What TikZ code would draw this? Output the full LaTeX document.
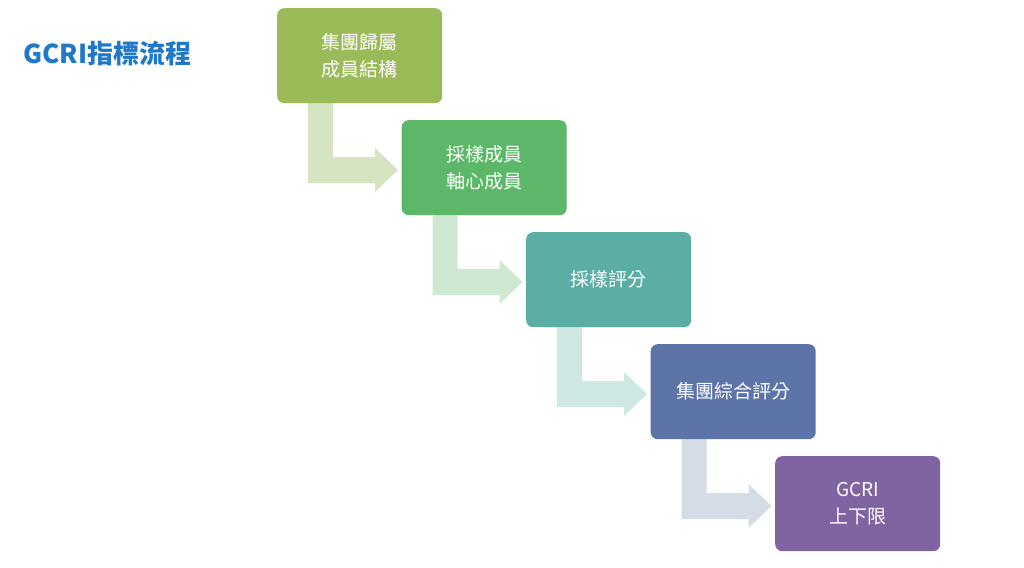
\documentclass[tikz,border=0pt]{standalone}
\usepackage{fontspec}
\newfontfamily\cjk{Noto Sans CJK TC}
\begin{document}
\begin{tikzpicture}[x=1pt,y=-1pt,
  stepbox/.style={rounded corners=7pt,minimum width=165pt,minimum height=95pt,text=white,font=\cjk\fontsize{19}{27}\selectfont,align=center,inner sep=0pt,anchor=north west}]
\useasboundingbox (0,0) rectangle (1024,567);
\fill[white] (0,0) rectangle (1024,567);
\node[anchor=west,text={rgb,255:red,31;green,120;blue,200},font=\cjk\bfseries\fontsize{26}{30}\selectfont] (title) at (20,54) {GCRI指標流程};
\definecolor{c1}{RGB}{155,187,89}
\definecolor{c2}{RGB}{92,184,104}
\definecolor{c3}{RGB}{90,174,164}
\definecolor{c4}{RGB}{92,116,168}
\definecolor{c5}{RGB}{128,100,162}
\definecolor{a1}{RGB}{214,228,194}
\definecolor{a2}{RGB}{206,232,210}
\definecolor{a3}{RGB}{208,232,228}
\definecolor{a4}{RGB}{212,220,230}
\definecolor{a5}{RGB}{228,224,236}
\foreach \i/\a in {0/a1,1/a2,2/a3,3/a4}{
  \begin{scope}[shift={({\i*124.5},{\i*112})}]
  \fill[\a] (308,103) -- (333,103) -- (333,157) -- (375,157) -- (375,148) -- (398,170) -- (375,192) -- (375,183) -- (308,183) -- cycle;
  \end{scope}}
\node[stepbox,fill=c1] (b1) at (277,8) {集團歸屬\\成員結構};
\node[stepbox,fill=c2] (b2) at (401.5,120) {採樣成員\\軸心成員};
\node[stepbox,fill=c3] (b3) at (526,232) {採樣評分};
\node[stepbox,fill=c4] (b4) at (650.5,344) {集團綜合評分};
\node[stepbox,fill=c5] (b5) at (775,456) {GCRI\\上下限};
\end{tikzpicture}
\end{document}
